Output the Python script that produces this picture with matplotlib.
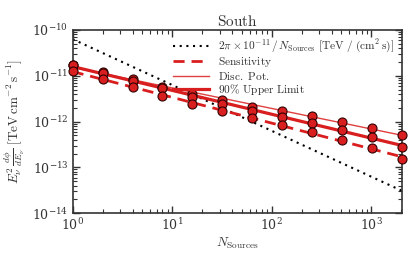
import numpy as np
import matplotlib
matplotlib.use("Agg")
import matplotlib.pyplot as plt

plt.rcParams['mathtext.fontset'] = 'cm'
plt.rcParams['font.family'] = ['DejaVu Serif']

# number of sources and fluxes
n_sources = np.array([1, 2, 4, 8, 16, 32, 64, 128, 256, 512, 1024, 2048])
disc_pot = np.array([1.72e-11, 1.20e-11, 8.3e-12, 5.6e-12, 3.9e-12, 2.97e-12,
                     2.12e-12, 1.68e-12, 1.29e-12, 1.0e-12, 7.4e-13, 5.1e-13])
upper_limit = np.array([1.68e-11, 1.15e-11, 7.8e-12, 5.3e-12, 3.4e-12, 2.43e-12,
                        1.74e-12, 1.28e-12, 9.2e-13, 6.7e-13, 4.5e-13, 2.85e-13])
sensitivity = np.array([1.27e-11, 8.5e-12, 5.6e-12, 3.7e-12, 2.4e-12, 1.68e-12,
                        1.18e-12, 8.5e-13, 5.85e-13, 4.0e-13, 2.6e-13, 1.5e-13])
total_flux = 2 * np.pi * 1e-11

red = '#d81e1e'
txt = '#333333'

def powerlaw_fit(x, y):
    k, b = np.polyfit(np.log10(x), np.log10(y), 1)
    return 10 ** (k * np.log10(x) + b)

fig = plt.figure(figsize=(4.15, 2.6), dpi=100)
ax = fig.add_axes([0.175, 0.18, 0.794, 0.705])

xx = np.logspace(0, np.log10(2048), 100)
ax.plot(xx, total_flux / xx, ls=(0, (1, 2.2)), color='k', lw=1.5,
        label=r'$2\pi \times 10^{-11}\,/\,N_{\rm Sources}\ \mathrm{[TeV\ /\ (cm^2\,s)]}$')
ax.plot(n_sources, powerlaw_fit(n_sources, sensitivity), ls=(0, (4, 2.5)),
        color=red, lw=2, label=r'$\mathrm{Sensitivity}$')
ax.plot(n_sources, powerlaw_fit(n_sources, disc_pot), color='#e04040', lw=1.0,
        label=r'$\mathrm{Disc.\ Pot.}$')
ax.plot(n_sources, powerlaw_fit(n_sources, upper_limit), color=red, lw=2.3,
        label=r'$\mathrm{90\%\ Upper\ Limit}$')

for y in (disc_pot, upper_limit, sensitivity):
    ax.plot(n_sources, y, 'o', ms=6.5, mfc=red, mec='#300000', mew=0.8,
            clip_on=False, zorder=5)

ax.set_xscale('log')
ax.set_yscale('log')
ax.set_xlim(1, 2048)
ax.set_ylim(1e-14, 1e-10)
ax.tick_params(which='both', direction='in', top=True, right=True,
               labelsize=9, colors=txt, pad=3)
ax.tick_params(which='major', length=5, width=1)
ax.tick_params(which='minor', length=3, width=0.8)
for s in ax.spines.values():
    s.set_linewidth(1.2)
    s.set_color(txt)

ax.set_xlabel(r'$N_{\rm Sources}$', fontsize=9.5, color=txt, labelpad=2)
ax.set_ylabel(r'$E_\nu^2\,\frac{d\phi}{dE_\nu}\ \mathrm{[TeV\,cm^{-2}\,s^{-1}]}$',
              fontsize=9.5, color=txt, labelpad=4)
ax.set_title(r'$\mathrm{South}$', fontsize=11, color=txt, pad=3)

ax.legend(loc='upper right', frameon=False, fontsize=8.2, handlelength=3.2,
          labelspacing=0.02, borderaxespad=0.3, labelcolor=txt)

fig.savefig('out.png', dpi=100)
